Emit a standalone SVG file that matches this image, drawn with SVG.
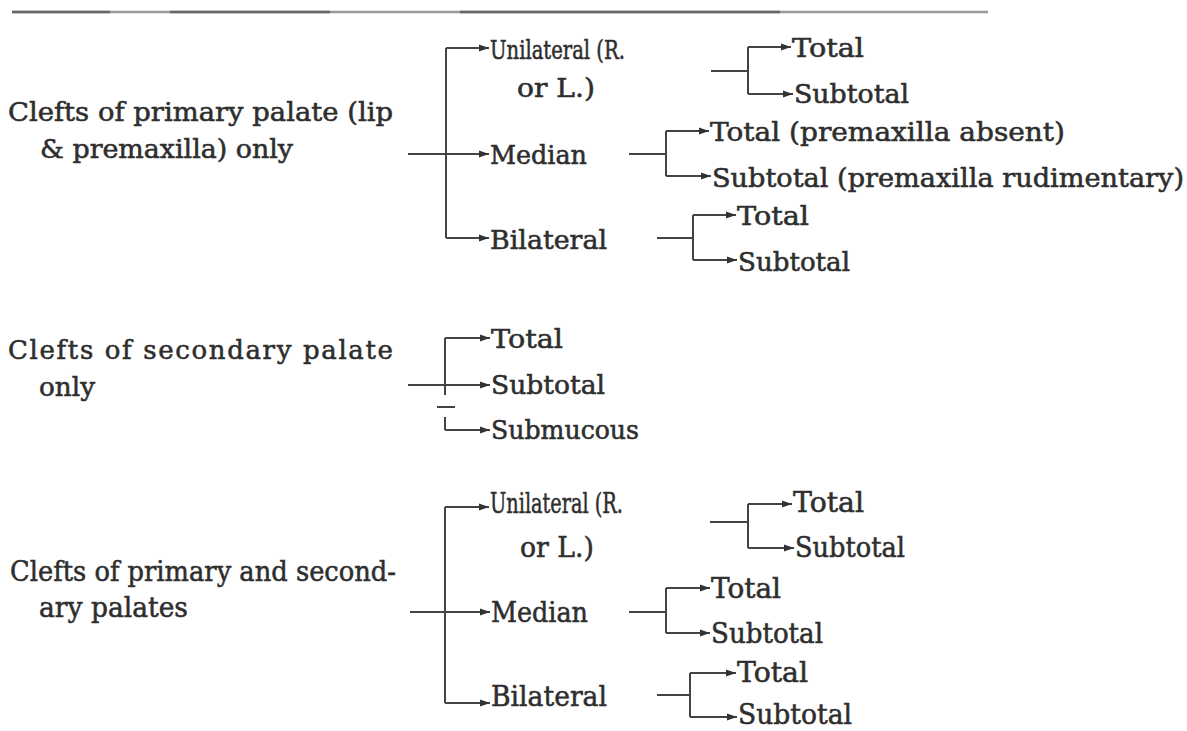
<svg xmlns="http://www.w3.org/2000/svg" width="1187" height="731" viewBox="0 0 1187 731">
<defs>
<marker id="ah" markerUnits="userSpaceOnUse" markerWidth="11" markerHeight="9" refX="10" refY="4.5" orient="auto">
<path d="M0,1 L10,4.5 L0,8 Z" fill="#333"/>
</marker>
<style>
text{font-family:"DejaVu Serif","Liberation Serif",serif;font-size:26px;fill:#2e2e2e;stroke:#2e2e2e;stroke-width:0.55px;}
.c{font-size:28px;}
.ln{stroke:#444;stroke-width:2;fill:none;}
.ar{stroke:#444;stroke-width:2;fill:none;marker-end:url(#ah);}
</style>
</defs>
<rect width="1187" height="731" fill="#fff"/>
<g id="rule">
<path d="M12,12 H988" stroke="#999" stroke-width="2.5"/>
<path d="M12,12 H110 M170,12 H330 M460,12 H780" stroke="#666" stroke-width="2.5"/>
</g>
<g id="connectors">
<path class="ln" d="M408,154 H446 M446,48 V238"/>
<path class="ar" d="M446,48 H489"/>
<path class="ar" d="M446,154 H489"/>
<path class="ar" d="M446,238 H489"/>
<path class="ln" d="M711,71 H748 M748,47 V94"/>
<path class="ar" d="M748,47 H791"/>
<path class="ar" d="M748,94 H793"/>
<path class="ln" d="M629,154 H666 M666,131 V176"/>
<path class="ar" d="M666,131 H709"/>
<path class="ar" d="M666,176 H711"/>
<path class="ln" d="M657,238 H693 M693,215 V260"/>
<path class="ar" d="M693,215 H736"/>
<path class="ar" d="M693,260 H737"/>
<path class="ln" d="M408,385 H445 M445,338 V395 M437,407 H455 M445,417 V430"/>
<path class="ar" d="M445,338 H490"/>
<path class="ar" d="M445,385 H490"/>
<path class="ar" d="M445,430 H490"/>
<path class="ln" d="M410,612 H445 M445,507 V703"/>
<path class="ar" d="M445,507 H489"/>
<path class="ar" d="M445,612 H490"/>
<path class="ar" d="M445,703 H490"/>
<path class="ln" d="M710,522 H748 M748,504 V548"/>
<path class="ar" d="M748,504 H792"/>
<path class="ar" d="M748,548 H794"/>
<path class="ln" d="M629,612 H666 M666,588 V633"/>
<path class="ar" d="M666,588 H710"/>
<path class="ar" d="M666,633 H710"/>
<path class="ln" d="M657,695 H690 M690,673 V717"/>
<path class="ar" d="M690,673 H736"/>
<path class="ar" d="M690,717 H737"/>
</g>
<g id="n-primary"><text x="8" y="121" textLength="385" lengthAdjust="spacingAndGlyphs">Clefts of primary palate (lip</text><text x="40" y="158" textLength="253" lengthAdjust="spacingAndGlyphs">&amp; premaxilla) only</text></g>
<g id="n-p-unilateral"><text x="490" y="59" textLength="135" lengthAdjust="spacingAndGlyphs">Unilateral (R.</text><text x="517" y="97" textLength="78" lengthAdjust="spacingAndGlyphs">or L.)</text></g>
<g id="n-p-median"><text x="490" y="164" textLength="97" lengthAdjust="spacingAndGlyphs">Median</text></g>
<g id="n-p-bilateral"><text x="490" y="249" textLength="117" lengthAdjust="spacingAndGlyphs">Bilateral</text></g>
<g id="n-p-uni-total"><text x="792" y="57" textLength="72" lengthAdjust="spacingAndGlyphs">Total</text></g>
<g id="n-p-uni-subtotal"><text x="794" y="103" textLength="115" lengthAdjust="spacingAndGlyphs">Subtotal</text></g>
<g id="n-p-med-total"><text x="710" y="141" textLength="355" lengthAdjust="spacingAndGlyphs">Total (premaxilla absent)</text></g>
<g id="n-p-med-subtotal"><text x="712" y="187" textLength="472" lengthAdjust="spacingAndGlyphs">Subtotal (premaxilla rudimentary)</text></g>
<g id="n-p-bi-total"><text x="737" y="225" textLength="72" lengthAdjust="spacingAndGlyphs">Total</text></g>
<g id="n-p-bi-subtotal"><text x="738" y="271" textLength="112" lengthAdjust="spacingAndGlyphs">Subtotal</text></g>
<g id="n-secondary"><text x="8" y="359" textLength="385" lengthAdjust="spacing">Clefts of secondary palate</text><text x="39" y="396" textLength="56" lengthAdjust="spacingAndGlyphs">only</text></g>
<g id="n-s-total"><text x="491" y="348" textLength="72" lengthAdjust="spacingAndGlyphs">Total</text></g>
<g id="n-s-subtotal"><text x="491" y="394" textLength="114" lengthAdjust="spacingAndGlyphs">Subtotal</text></g>
<g id="n-s-submucous"><text x="491" y="439" textLength="148" lengthAdjust="spacingAndGlyphs">Submucous</text></g>
<g id="n-both"><text class="c" x="10" y="581" textLength="386" lengthAdjust="spacingAndGlyphs">Clefts of primary and second-</text><text class="c" x="39" y="617" textLength="149" lengthAdjust="spacingAndGlyphs">ary palates</text></g>
<g id="n-b-unilateral"><text class="c" x="490" y="513" textLength="133" lengthAdjust="spacingAndGlyphs">Unilateral (R.</text><text class="c" x="520" y="557" textLength="74" lengthAdjust="spacingAndGlyphs">or L.)</text></g>
<g id="n-b-median"><text class="c" x="491" y="622" textLength="97" lengthAdjust="spacingAndGlyphs">Median</text></g>
<g id="n-b-bilateral"><text class="c" x="491" y="706" textLength="116" lengthAdjust="spacingAndGlyphs">Bilateral</text></g>
<g id="n-b-uni-total"><text class="c" x="793" y="512" textLength="71" lengthAdjust="spacingAndGlyphs">Total</text></g>
<g id="n-b-uni-subtotal"><text class="c" x="795" y="557" textLength="110" lengthAdjust="spacingAndGlyphs">Subtotal</text></g>
<g id="n-b-med-total"><text class="c" x="711" y="598" textLength="70" lengthAdjust="spacingAndGlyphs">Total</text></g>
<g id="n-b-med-subtotal"><text class="c" x="711" y="643" textLength="112" lengthAdjust="spacingAndGlyphs">Subtotal</text></g>
<g id="n-b-bi-total"><text class="c" x="737" y="682" textLength="71" lengthAdjust="spacingAndGlyphs">Total</text></g>
<g id="n-b-bi-subtotal"><text class="c" x="738" y="724" textLength="114" lengthAdjust="spacingAndGlyphs">Subtotal</text></g>
</svg>
